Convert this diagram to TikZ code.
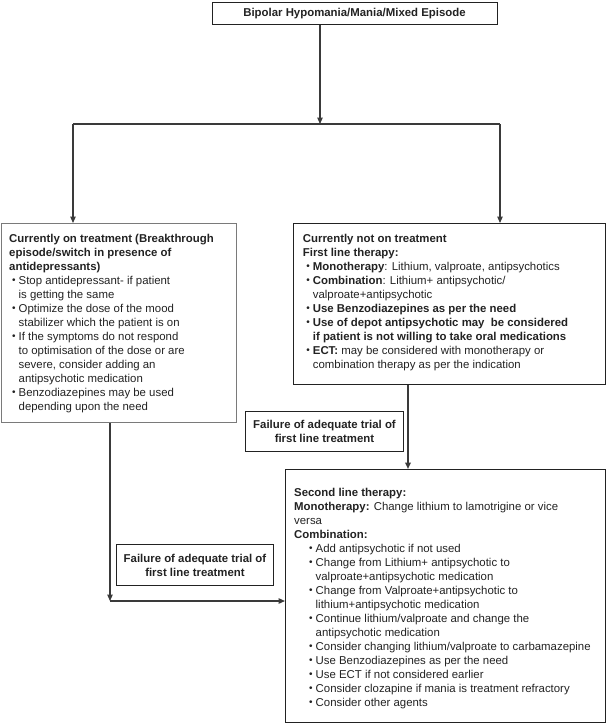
\documentclass[tikz,border=0pt]{standalone}
\usepackage{fontspec}
\setmainfont{Liberation Sans}
\usetikzlibrary{arrows.meta}
\definecolor{ink}{HTML}{222222}
\definecolor{lineg}{HTML}{3A3A3A}
\definecolor{boxg}{HTML}{7A7A7A}
\newcommand\bul{\makebox[6.5pt][l]{\raisebox{0.3pt}{\fontsize{10}{10}\selectfont •}}}
\newcommand\bl[1]{\hspace*{#1}\bul}
\newcommand\ct[1]{\hspace*{\dimexpr#1+6.5pt\relax}}
\begin{document}
\begin{tikzpicture}[x=1pt,y=-1pt,
  frame/.style={draw=ink, line width=1pt, rectangle, inner sep=0pt, anchor=north west},
  txt/.style={anchor=north west, inner sep=0pt, align=left, text=ink, font=\fontsize{11.4}{14}\selectfont},
  lbl/.style={frame, align=center, text=ink, font=\bfseries\fontsize{11.4}{14}\selectfont},
  conn/.style={draw=lineg, line width=1.2pt},
  arr/.style={conn, -{Triangle[length=6.5pt,width=5.5pt]}}
]
\useasboundingbox (0,0) rectangle (606,724);

% boxes
\node[lbl, minimum width=285, minimum height=22] (T) at (211.5,2) {Bipolar Hypomania/Mania/Mixed Episode};
\node[frame, draw=boxg, minimum width=235, minimum height=199] (L) at (0.6,223) {};
\node[frame, minimum width=312, minimum height=161] (R) at (293,223) {};
\node[frame, minimum width=320, minimum height=253] (B) at (285,469) {};
\node[lbl, minimum width=158, minimum height=40] (F1) at (245,411) {Failure of adequate trial of\\first line treatment};
\node[lbl, minimum width=157, minimum height=41] (F2) at (116,544) {Failure of adequate trial of\\first line treatment};

% texts
\node[txt] (Lt) at (9,233) {\rule{0pt}{9pt}\textbf{Currently on treatment (Breakthrough}\\
\textbf{episode/switch in presence of}\\
\textbf{antidepressants)}\\
\bl{3pt}Stop antidepressant- if patient\\
\ct{3pt}is getting the same\\
\bl{3pt}Optimize the dose of the mood\\
\ct{3pt}stabilizer which the patient is on\\
\bl{3pt}If the symptoms do not respond\\
\ct{3pt}to optimisation of the dose or are\\
\ct{3pt}severe, consider adding an\\
\ct{3pt}antipsychotic medication\\
\bl{3pt}Benzodiazepines may be used\\
\ct{3pt}depending upon the need};

\node[txt] (Rt) at (302.7,233) {\rule{0pt}{9pt}\textbf{Currently not on treatment}\\
\textbf{First line therapy:}\\
\bl{3.5pt}\textbf{Monotherapy}: Lithium, valproate, antipsychotics\\
\bl{3.5pt}\textbf{Combination}: Lithium+ antipsychotic/\\
\ct{3.5pt}valproate+antipsychotic\\
\bl{3.5pt}\textbf{Use Benzodiazepines as per the need}\\
\bl{3.5pt}\textbf{Use of depot antipsychotic may\ \ be considered}\\
\ct{3.5pt}\textbf{if patient is not willing to take oral medications}\\
\bl{3.5pt}\textbf{ECT:} may be considered with monotherapy or\\
\ct{3.5pt}combination therapy as per the indication};

\node[txt] (Bt) at (294,487) {\rule{0pt}{9pt}\textbf{Second line therapy:}\\
\textbf{Monotherapy:} Change lithium to lamotrigine or vice\\
versa\\
\textbf{Combination:}\\
\bl{15pt}Add antipsychotic if not used\\
\bl{15pt}Change from Lithium+ antipsychotic to\\
\ct{15pt}valproate+antipsychotic medication\\
\bl{15pt}Change from Valproate+antipsychotic to\\
\ct{15pt}lithium+antipsychotic medication\\
\bl{15pt}Continue lithium/valproate and change the\\
\ct{15pt}antipsychotic medication\\
\bl{15pt}Consider changing lithium/valproate to carbamazepine\\
\bl{15pt}Use Benzodiazepines as per the need\\
\bl{15pt}Use ECT if not considered earlier\\
\bl{15pt}Consider clozapine if mania is treatment refractory\\
\bl{15pt}Consider other agents};

% connectors
\coordinate (hM) at (320,124);
\coordinate (hL) at (73,124);
\coordinate (hR) at (500,124);
\coordinate (vx) at (408,0);
\coordinate (cc) at (110,601);
\draw[arr] (T.south -| hM) -- (hM);
\draw[conn] (hL) -- (hR);
\draw[arr] (hL) -- (L.north -| hL);
\draw[arr] (hR) -- (R.north -| hR);
\draw[arr, line width=2pt] (R.south -| vx) -- (B.north -| vx);
\draw[arr] (L.south -| cc) -- (cc);
\draw[arr] (cc) -- (B.west |- cc);
\end{tikzpicture}
\end{document}
